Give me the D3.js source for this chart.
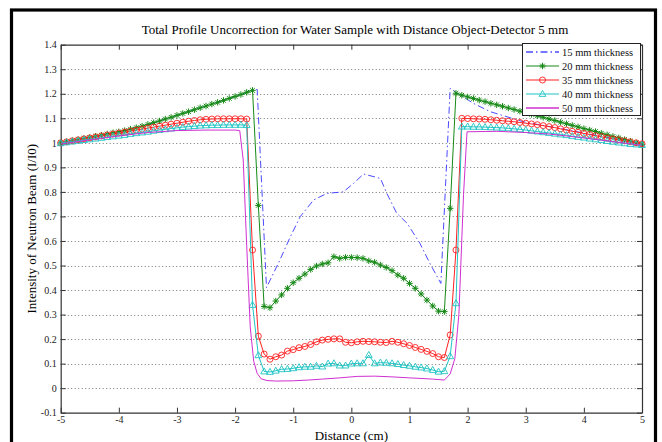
<!DOCTYPE html>
<html>
<head>
<meta charset="utf-8">
<script src="https://cdn.jsdelivr.net/npm/d3@7"></script>
<style>
  body { margin: 0; background: #fff; }
  text { font-family: "Times New Roman", "Liberation Serif", serif; }
</style>
</head>
<body>
<div id="chart"></div>
<script>
var width = 662, height = 442;

// distance grid (cm) for the sampled series
var dist = [-5.0,-4.9,-4.8,-4.7,-4.6,-4.5,-4.4,-4.3,-4.2,-4.1,-4.0,-3.9,-3.8,-3.7,-3.6,-3.5,-3.4,-3.3,-3.2,-3.1,
  -3.0,-2.9,-2.8,-2.7,-2.6,-2.5,-2.4,-2.3,-2.2,-2.1,-2.0,-1.9,-1.8,-1.7,-1.6,-1.5,-1.4,-1.3,-1.2,-1.1,
  -1.0,-0.9,-0.8,-0.7,-0.6,-0.5,-0.4,-0.3,-0.2,-0.1,0.0,0.1,0.2,0.3,0.4,0.5,0.6,0.7,0.8,0.9,
  1.0,1.1,1.2,1.3,1.4,1.5,1.6,1.7,1.8,1.9,2.0,2.1,2.2,2.3,2.4,2.5,2.6,2.7,2.8,2.9,
  3.0,3.1,3.2,3.3,3.4,3.5,3.6,3.7,3.8,3.9,4.0,4.1,4.2,4.3,4.4,4.5,4.6,4.7,4.8,4.9,5.0];

var t20 = [1.000,1.004,1.009,1.013,1.018,1.022,1.027,1.031,1.036,1.041,1.045,1.050,1.056,1.062,1.068,1.075,1.082,1.089,1.097,1.104,
  1.112,1.120,1.127,1.135,1.143,1.150,1.158,1.165,1.173,1.181,1.189,1.197,1.206,1.214,0.745,0.333,0.328,0.355,0.380,0.407,
  0.430,0.448,0.465,0.484,0.498,0.506,0.511,0.536,0.529,0.533,0.533,0.532,0.529,0.519,0.513,0.502,0.492,0.479,0.461,0.448,
  0.427,0.407,0.384,0.359,0.335,0.314,0.312,0.733,1.202,1.194,1.187,1.181,1.174,1.168,1.161,1.155,1.149,1.142,1.136,1.129,
  1.123,1.116,1.110,1.104,1.097,1.091,1.084,1.078,1.071,1.065,1.058,1.052,1.046,1.039,1.033,1.026,1.020,1.013,1.007,1.000,0.994];

var t35 = [1.000,1.004,1.008,1.012,1.016,1.020,1.024,1.028,1.032,1.036,1.040,1.044,1.048,1.052,1.056,1.060,1.064,1.068,1.072,1.076,
  1.080,1.084,1.088,1.091,1.094,1.096,1.097,1.098,1.098,1.098,1.098,1.098,1.097,0.563,0.212,0.139,0.118,0.128,0.135,0.151,
  0.157,0.165,0.170,0.178,0.189,0.196,0.199,0.201,0.201,0.187,0.185,0.189,0.191,0.190,0.189,0.187,0.186,0.191,0.187,0.181,
  0.174,0.166,0.158,0.150,0.141,0.128,0.125,0.217,0.563,1.100,1.099,1.098,1.097,1.096,1.094,1.092,1.090,1.088,1.086,1.083,
  1.080,1.077,1.074,1.070,1.066,1.062,1.057,1.052,1.047,1.043,1.038,1.034,1.029,1.025,1.020,1.016,1.012,1.008,1.004,1.000,0.996];

var t40 = [0.998,1.002,1.005,1.008,1.011,1.014,1.017,1.020,1.023,1.026,1.029,1.032,1.036,1.039,1.042,1.045,1.049,1.052,1.055,1.058,
  1.061,1.064,1.066,1.068,1.070,1.071,1.072,1.072,1.073,1.073,1.073,1.073,1.072,0.339,0.134,0.068,0.066,0.071,0.077,0.078,
  0.081,0.085,0.087,0.087,0.091,0.088,0.100,0.101,0.092,0.092,0.100,0.101,0.101,0.135,0.101,0.104,0.103,0.101,0.098,0.094,
  0.091,0.087,0.084,0.080,0.074,0.067,0.069,0.130,0.346,1.066,1.066,1.065,1.065,1.064,1.063,1.062,1.061,1.059,1.057,1.055,
  1.052,1.049,1.046,1.043,1.040,1.037,1.034,1.031,1.027,1.024,1.021,1.017,1.014,1.011,1.007,1.004,1.001,0.998,0.995,0.993,0.991];

// unmarked series, own x positions
var x15 = [-5.0,-4.5,-4.0,-3.5,-3.0,-2.5,-2.0,-1.7,-1.62,-1.46,-1.23,-1.05,-0.88,-0.65,-0.42,-0.14,0.04,0.21,0.50,0.61,
  0.78,0.96,1.18,1.35,1.54,1.70,1.87,2.10,2.39,2.68,2.96,3.25,3.6,4.0,4.5,5.0];
var t15 = [1.000,1.022,1.045,1.075,1.112,1.150,1.189,1.214,1.218,0.410,0.522,0.617,0.699,0.767,0.794,0.800,0.835,0.873,0.855,0.794,
  0.713,0.672,0.590,0.509,0.427,1.222,1.195,1.161,1.127,1.106,1.086,1.073,1.058,1.040,1.018,0.996];

var x50 = [-5.0,-4.5,-4.0,-3.5,-3.0,-2.5,-2.0,-1.92,-1.86,-1.80,-1.74,-1.68,-1.62,-1.55,-1.45,-1.3,-1.0,-0.75,-0.5,-0.2,
  0.1,0.4,0.7,1.0,1.4,1.6,1.7,1.78,1.85,1.93,1.99,2.5,3.0,3.4,4.0,4.5,5.0];
var t50 = [0.995,1.012,1.028,1.042,1.050,1.052,1.052,1.050,0.930,0.580,0.250,0.110,0.060,0.038,0.031,0.029,0.030,0.033,0.037,0.042,
  0.048,0.049,0.046,0.042,0.037,0.033,0.058,0.120,0.300,0.790,1.045,1.047,1.042,1.036,1.020,1.005,0.990];

var labels = ["15 mm thickness", "20 mm thickness", "35 mm thickness", "40 mm thickness", "50 mm thickness"];
var yTicks = [-0.1,0,0.1,0.2,0.3,0.4,0.5,0.6,0.7,0.8,0.9,1,1.1,1.2,1.3,1.4];
var xTicks = [-5,-4,-3,-2,-1,0,1,2,3,4,5];

var series = [
  {name: labels[0], xs: x15, ys: t15, color: "#4a4aff", dash: "7,3,1.5,3", marker: null},
  {name: labels[1], xs: dist, ys: t20, color: "#168a16", dash: null, marker: "star"},
  {name: labels[2], xs: dist, ys: t35, color: "#ff2020", dash: null, marker: "circle"},
  {name: labels[3], xs: dist, ys: t40, color: "#20c4c4", dash: null, marker: "tri"},
  {name: labels[4], xs: x50, ys: t50, color: "#d030d0", dash: null, marker: null}
];

var plot = {left: 60.7, right: 642, top: 44.7, bottom: 412.7};

var svg = d3.select("#chart").append("svg")
    .attr("width", width)
    .attr("height", height);

svg.append("rect").attr("width", width).attr("height", height).attr("fill", "#fff");

// figure frame
svg.append("rect")
    .attr("x", 11.5).attr("y", 10)
    .attr("width", 644).attr("height", 460)
    .attr("fill", "none")
    .attr("stroke", "#000")
    .attr("stroke-width", 3.2);

var x = d3.scaleLinear().domain([-5, 5]).range([plot.left, plot.right]);
var y = d3.scaleLinear().domain([-0.1, 1.4]).range([plot.bottom, plot.top]);

// plain hyphen minus like the original figure
function fmt(d) { return String(Math.round(d * 10) / 10); }

// horizontal grid
svg.append("g").selectAll("line")
  .data(yTicks.slice(1, -1))
  .enter().append("line")
    .attr("x1", plot.left).attr("x2", plot.right)
    .attr("y1", function(d) { return Math.round(y(d)) + 0.5; })
    .attr("y2", function(d) { return Math.round(y(d)) + 0.5; })
    .attr("stroke", "#777")
    .attr("stroke-width", 1)
    .attr("stroke-dasharray", "1,2.5");

// axes, ticks pointing inward on all sides
var axisCol = "#333";
svg.append("g")
    .attr("transform", "translate(0," + plot.bottom + ")")
    .call(d3.axisBottom(x).tickValues(xTicks).tickSizeInner(-5).tickSizeOuter(0).tickPadding(3).tickFormat(fmt))
    .call(styleAxis);
svg.append("g")
    .attr("transform", "translate(0," + plot.top + ")")
    .call(d3.axisTop(x).tickValues(xTicks).tickSizeInner(-5).tickSizeOuter(0).tickFormat(""))
    .call(styleAxis);
svg.append("g")
    .attr("transform", "translate(" + plot.left + ",0)")
    .call(d3.axisLeft(y).tickValues(yTicks).tickSizeInner(-5).tickSizeOuter(0).tickPadding(4).tickFormat(fmt))
    .call(styleAxis);
svg.append("g")
    .attr("transform", "translate(" + plot.right + ",0)")
    .call(d3.axisRight(y).tickValues(yTicks).tickSizeInner(-5).tickSizeOuter(0).tickFormat(""))
    .call(styleAxis);

function styleAxis(g) {
  g.select(".domain").attr("stroke", axisCol).attr("stroke-width", 1.2);
  g.selectAll(".tick line").attr("stroke", axisCol);
  g.selectAll(".tick text")
    .attr("fill", "#222")
    .style("font-size", "10px")
    .style("font-family", "'Times New Roman', 'Liberation Serif', serif");
}

// data
var line = d3.line()
    .x(function(d) { return x(d[0]); })
    .y(function(d) { return y(d[1]); });

function drawMarker(g, type, cx, cy, color) {
  if (type === "circle") {
    g.append("circle").attr("cx", cx).attr("cy", cy).attr("r", 3)
      .attr("fill", "none").attr("stroke", color).attr("stroke-width", 0.9);
  } else if (type === "tri") {
    g.append("path")
      .attr("d", "M" + cx + "," + (cy - 3.6) + "L" + (cx + 3.4) + "," + (cy + 2.4) + "L" + (cx - 3.4) + "," + (cy + 2.4) + "Z")
      .attr("fill", "none").attr("stroke", color).attr("stroke-width", 0.9);
  } else if (type === "star") {
    var s = 3.2, d2 = 2.3;
    g.append("path")
      .attr("d", "M" + (cx - s) + "," + cy + "H" + (cx + s) + "M" + cx + "," + (cy - s) + "V" + (cy + s) +
        "M" + (cx - d2) + "," + (cy - d2) + "L" + (cx + d2) + "," + (cy + d2) +
        "M" + (cx - d2) + "," + (cy + d2) + "L" + (cx + d2) + "," + (cy - d2))
      .attr("fill", "none").attr("stroke", color).attr("stroke-width", 1);
  }
}

series.forEach(function(s) {
  var pts = s.xs.map(function(v, i) { return [v, s.ys[i]]; });
  var g = svg.append("g");
  g.append("path")
    .attr("d", line(pts))
    .attr("fill", "none")
    .attr("stroke", s.color)
    .attr("stroke-width", 1)
    .attr("stroke-dasharray", s.dash);
  if (s.marker) {
    pts.forEach(function(p) { drawMarker(g, s.marker, x(p[0]), y(p[1]), s.color); });
  }
});

// legend
var lg = svg.append("g");
lg.append("rect")
    .attr("x", 522.5).attr("y", 43.5)
    .attr("width", 118).attr("height", 72)
    .attr("fill", "#fff")
    .attr("stroke", "#222")
    .attr("stroke-width", 1);
series.forEach(function(s, i) {
  var ly = 52 + i * 14;
  lg.append("line")
    .attr("x1", 526).attr("x2", 559)
    .attr("y1", ly).attr("y2", ly)
    .attr("stroke", s.color)
    .attr("stroke-width", s.marker ? 1 : 1.6)
    .attr("stroke-dasharray", s.dash);
  if (s.marker) drawMarker(lg, s.marker, 542.5, ly, s.color);
  lg.append("text")
    .attr("x", 562).attr("y", ly + 3.5)
    .style("font-size", "10.5px")
    .attr("fill", "#111")
    .text(s.name);
});

// titles
svg.append("text")
    .attr("x", 355).attr("y", 34)
    .attr("text-anchor", "middle")
    .style("font-size", "13px")
    .text("Total Profile Uncorrection for Water Sample with Distance Object-Detector 5 mm");

svg.append("text")
    .attr("x", (plot.left + plot.right) / 2).attr("y", 439.5)
    .attr("text-anchor", "middle")
    .style("font-size", "13px")
    .text("Distance (cm)");

svg.append("text")
    .attr("transform", "translate(36," + ((plot.top + plot.bottom) / 2) + ") rotate(-90)")
    .attr("text-anchor", "middle")
    .style("font-size", "13px")
    .text("Intensity of Neutron Beam (I/I0)");
</script>
</body>
</html>
